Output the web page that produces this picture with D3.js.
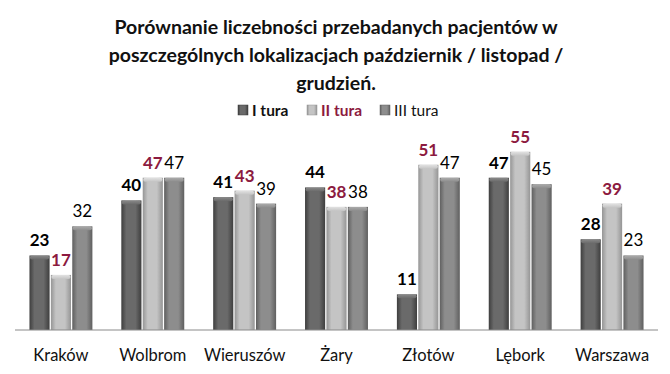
<!DOCTYPE html>
<html lang="pl">
  <head>
    <meta charset="utf-8">
    <title>Porównanie liczebności pacjentów</title>
    <script src="https://d3js.org/d3.v7.min.js"></script>
    <style>
      body { margin: 0; background: #fff; }
    </style>
  </head>
  <body>
    <script type="text/javascript">
      const categories = ["Kraków", "Wolbrom", "Wieruszów", "Żary", "Złotów", "Lębork", "Warszawa"];
      const seriesNames = ["I tura", "II tura", "III tura"];
      const tura1 = [23, 40, 41, 44, 11, 47, 28];
      const tura2 = [17, 47, 43, 38, 51, 55, 39];
      const tura3 = [32, 47, 39, 38, 47, 45, 23];
      const titleLines = [
        "Porównanie liczebności przebadanych pacjentów w",
        "poszczególnych lokalizacjach październik / listopad /",
        "grudzień."
      ];

      const width = 670, height = 374;
      const font = "Lato, 'Open Sans', sans-serif";
      const baseY = 330;
      const left = 15, right = 658;

      // bar looks: edge, middle, cap
      const barStyles = [
        {edge: "#3e3e3e", mid: "#6a6a6a", cap: "#8a8a8a"},
        {edge: "#959595", mid: "#c4c4c4", cap: "#e2e2e2"},
        {edge: "#5f5f5f", mid: "#8d8d8d", cap: "#ababab"}
      ];
      const labelStyles = [
        {color: "#000", weight: "bold"},
        {color: "#8c1a40", weight: "bold"},
        {color: "#000", weight: "normal"}
      ];

      const data = categories.map((c, i) => ({
        cat: c, values: [tura1[i], tura2[i], tura3[i]]
      }));

      var svg = d3.select("body")
        .append("svg")
        .attr("width", width)
        .attr("height", height);

      var defs = svg.append("defs");
      barStyles.forEach((s, i) => {
        var g = defs.append("linearGradient")
          .attr("id", "grad" + i)
          .attr("x1", "0").attr("x2", "1").attr("y1", "0").attr("y2", "0");
        g.append("stop").attr("offset", "0%").attr("stop-color", s.edge);
        g.append("stop").attr("offset", "25%").attr("stop-color", s.mid);
        g.append("stop").attr("offset", "70%").attr("stop-color", s.mid);
        g.append("stop").attr("offset", "100%").attr("stop-color", s.edge);
        var c = defs.append("linearGradient")
          .attr("id", "cap" + i)
          .attr("x1", "0").attr("x2", "0").attr("y1", "0").attr("y2", "1");
        c.append("stop").attr("offset", "0%").attr("stop-color", s.cap);
        c.append("stop").attr("offset", "100%").attr("stop-color", s.mid);
      });

      // title
      svg.append("g")
        .selectAll("text")
        .data(titleLines)
        .enter()
        .append("text")
        .attr("x", 336)
        .attr("y", (d, i) => 34 + i * 28)
        .attr("text-anchor", "middle")
        .attr("font-family", font)
        .attr("font-size", "19.5px")
        .attr("font-weight", "bold")
        .attr("fill", "#111")
        .text(d => d);

      // legend
      const legendX = [238, 307, 380];
      var legend = svg.append("g")
        .selectAll("g")
        .data(seriesNames)
        .enter()
        .append("g")
        .attr("transform", (d, i) => `translate(${legendX[i]},105)`);
      legend.append("rect")
        .attr("width", 10).attr("height", 10)
        .attr("fill", (d, i) => `url(#grad${i})`)
        .attr("stroke", (d, i) => barStyles[i].edge)
        .attr("stroke-width", 0.5);
      legend.append("text")
        .attr("x", 14).attr("y", 11)
        .attr("font-family", font)
        .attr("font-size", "15.5px")
        .attr("font-weight", (d, i) => labelStyles[i].weight)
        .attr("fill", (d, i) => labelStyles[i].color === "#000" ? "#111" : labelStyles[i].color)
        .text(d => d);

      var x0 = d3.scaleBand()
        .domain(categories)
        .range([left, right])
        .paddingInner(0.315)
        .paddingOuter(0.1575);

      var x1 = d3.scaleBand()
        .domain([0, 1, 2])
        .range([0, x0.bandwidth()])
        .paddingInner(0.06);

      var y = d3.scaleLinear()
        .domain([0, 60])
        .range([baseY, baseY - 60 * 3.24]);

      var groups = svg.append("g")
        .selectAll("g")
        .data(data)
        .enter()
        .append("g")
        .attr("transform", d => `translate(${x0(d.cat)},0)`);

      var bars = groups.selectAll("g.bar")
        .data(d => d.values.map((v, i) => ({v, i})))
        .enter()
        .append("g")
        .attr("class", "bar");

      bars.append("rect")
        .attr("x", d => x1(d.i))
        .attr("y", d => y(d.v))
        .attr("width", x1.bandwidth())
        .attr("height", d => baseY - y(d.v))
        .attr("fill", d => `url(#grad${d.i})`);

      bars.append("rect")
        .attr("x", d => x1(d.i) + 0.5)
        .attr("y", d => y(d.v))
        .attr("width", x1.bandwidth() - 1)
        .attr("height", 4)
        .attr("rx", 2)
        .attr("fill", d => `url(#cap${d.i})`);

      bars.append("text")
        .attr("x", d => x1(d.i) + x1.bandwidth() / 2)
        .attr("y", d => y(d.v) - 9)
        .attr("text-anchor", "middle")
        .attr("font-family", font)
        .attr("font-size", "17px")
        .attr("font-weight", d => labelStyles[d.i].weight)
        .attr("fill", d => labelStyles[d.i].color)
        .text(d => d.v);

      // axis
      var xAxis = svg.append("g")
        .attr("transform", `translate(0,${baseY})`)
        .call(d3.axisBottom(x0).tickSize(0).tickPadding(19));
      xAxis.select(".domain")
        .attr("d", `M${left},0H${right}`)
        .attr("stroke", "#8a8a8a");
      xAxis.selectAll("text")
        .attr("font-family", font)
        .attr("font-size", "16.5px")
        .attr("fill", "#111");
    </script>
  </body>
</html>
